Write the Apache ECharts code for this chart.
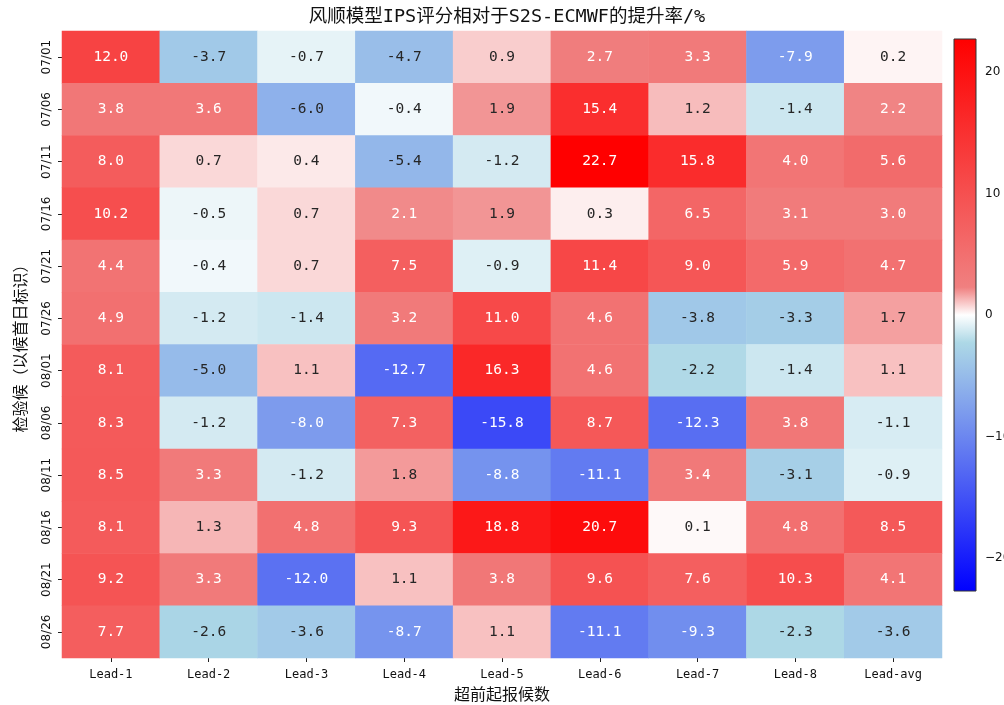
<!DOCTYPE html>
<html>
<head>
<meta charset="utf-8">
<script src="https://cdn.jsdelivr.net/npm/echarts@6/dist/echarts.min.js"></script>
<style>
  html, body { margin: 0; padding: 0; background: #fff; }
  #chart { width: 1004px; height: 705px; }
</style>
</head>
<body>
<div id="chart"></div>
<script>
// Lead times (columns) and verification pentads (rows, labelled by first day)
const leads = ['Lead-1', 'Lead-2', 'Lead-3', 'Lead-4', 'Lead-5', 'Lead-6', 'Lead-7', 'Lead-8', 'Lead-avg'];
const pentads = ['07/01', '07/06', '07/11', '07/16', '07/21', '07/26', '08/01', '08/06', '08/11', '08/16', '08/21', '08/26'];

// IPS improvement rate (%) per pentad, one array per row, columns follow `leads`
const r0701 = [12.0, -3.7, -0.7, -4.7, 0.9, 2.7, 3.3, -7.9, 0.2];
const r0706 = [3.8, 3.6, -6.0, -0.4, 1.9, 15.4, 1.2, -1.4, 2.2];
const r0711 = [8.0, 0.7, 0.4, -5.4, -1.2, 22.7, 15.8, 4.0, 5.6];
const r0716 = [10.2, -0.5, 0.7, 2.1, 1.9, 0.3, 6.5, 3.1, 3.0];
const r0721 = [4.4, -0.4, 0.7, 7.5, -0.9, 11.4, 9.0, 5.9, 4.7];
const r0726 = [4.9, -1.2, -1.4, 3.2, 11.0, 4.6, -3.8, -3.3, 1.7];
const r0801 = [8.1, -5.0, 1.1, -12.7, 16.3, 4.6, -2.2, -1.4, 1.1];
const r0806 = [8.3, -1.2, -8.0, 7.3, -15.8, 8.7, -12.3, 3.8, -1.1];
const r0811 = [8.5, 3.3, -1.2, 1.8, -8.8, -11.1, 3.4, -3.1, -0.9];
const r0816 = [8.1, 1.3, 4.8, 9.3, 18.8, 20.7, 0.1, 4.8, 8.5];
const r0821 = [9.2, 3.3, -12.0, 1.1, 3.8, 9.6, 7.6, 10.3, 4.1];
const r0826 = [7.7, -2.6, -3.6, -8.7, 1.1, -11.1, -9.3, -2.3, -3.6];
const rows = [r0701, r0706, r0711, r0716, r0721, r0726, r0801, r0806, r0811, r0816, r0821, r0826];

// Colour bar ticks
const barTicks = [-20, -10, 0, 10, 20];

// Symmetric colour range centred on zero
const vAbs = Math.max(...rows.flat().map(Math.abs));
const vMin = -vAbs, vMax = vAbs;

// Diverging colormap: blue -> lightblue -> white -> lightcoral -> red
const cmapNodes = [
  [0.00, [0, 0, 255]],
  [0.45, [173, 216, 230]],
  [0.50, [255, 255, 255]],
  [0.55, [240, 128, 128]],
  [1.00, [255, 0, 0]]
];
function cmap(t) {
  t = Math.min(1, Math.max(0, t));
  for (let i = 1; i < cmapNodes.length; i++) {
    const [t1, c1] = cmapNodes[i];
    const [t0, c0] = cmapNodes[i - 1];
    if (t <= t1) {
      const f = (t - t0) / (t1 - t0);
      return c0.map((v, k) => Math.round(v + (c1[k] - v) * f));
    }
  }
  return cmapNodes[cmapNodes.length - 1][1];
}
const toHex = c => '#' + c.map(v => v.toString(16).padStart(2, '0')).join('');
const rampColors = [];
for (let i = 0; i <= 20; i++) rampColors.push(toHex(cmap(i / 20)));

// Dark text on light cells, white text on saturated cells
function luminance(c) {
  const lin = c.map(v => {
    v /= 255;
    return v <= 0.03928 ? v / 12.92 : Math.pow((v + 0.055) / 1.055, 2.4);
  });
  return 0.2126 * lin[0] + 0.7152 * lin[1] + 0.0722 * lin[2];
}

const cells = [];
rows.forEach((row, r) => {
  row.forEach((v, c) => {
    const col = cmap((v - vMin) / (vMax - vMin));
    cells.push({
      value: [c, r, v],
      label: { color: luminance(col) > 0.408 ? '#262626' : '#ffffff' }
    });
  });
});

const monoCJK = '"DejaVu Sans Mono", "Noto Sans CJK SC", monospace';
const cjk = '"Noto Sans CJK SC", sans-serif';

const chart = echarts.init(document.getElementById('chart'), null, { renderer: 'canvas' });
chart.setOption({
  animation: false,
  backgroundColor: '#ffffff',
  title: {
    text: '风顺模型IPS评分相对于S2S-ECMWF的提升率/%',
    left: 502,
    textAlign: 'center',
    top: 3,
    textStyle: { fontFamily: monoCJK, fontSize: 18.5, fontWeight: 'normal', color: '#111' }
  },
  grid: [
    { left: 62, top: 31, width: 880, height: 627, outerBoundsMode: 'none' },
    { left: 954, top: 39, width: 22, height: 552, outerBoundsMode: 'none' }
  ],
  xAxis: [
    {
      type: 'category', gridIndex: 0, data: leads, position: 'bottom',
      axisLine: { show: false },
      axisTick: { show: true, alignWithLabel: true, length: 4, lineStyle: { color: '#222', width: 1 } },
      axisLabel: { margin: 11, fontFamily: monoCJK, fontSize: 12, color: '#111' },
      splitLine: { show: false },
      name: '超前起报候数', nameLocation: 'middle', nameGap: 24.5,
      nameTextStyle: { fontFamily: cjk, fontSize: 16, color: '#111' }
    },
    { type: 'value', gridIndex: 1, show: false, min: 0, max: 1 }
  ],
  yAxis: [
    {
      type: 'category', gridIndex: 0, data: pentads, inverse: true,
      axisLine: { show: false },
      axisTick: { show: true, alignWithLabel: true, length: 4, lineStyle: { color: '#222', width: 1 } },
      axisLabel: { rotate: 90, margin: 9, fontFamily: '"DejaVu Sans", sans-serif', fontSize: 12, color: '#111' },
      splitLine: { show: false },
      name: '检验候（以候首日标识）', nameLocation: 'middle', nameGap: 34, nameRotate: 90,
      nameTextStyle: { fontFamily: cjk, fontSize: 16, color: '#111' }
    },
    {
      type: 'value', gridIndex: 1, position: 'right', min: vMin, max: vMax,
      axisLine: { show: false },
      axisTick: { show: true, length: 4, customValues: barTicks, lineStyle: { color: '#222' } },
      axisLabel: {
        show: true, margin: 9, customValues: barTicks,
        fontFamily: '"DejaVu Sans", sans-serif', fontSize: 12, color: '#111',
        formatter: v => String(v).replace('-', '\u2212')
      },
      splitLine: { show: false }
    }
  ],
  visualMap: {
    type: 'continuous',
    show: false,
    seriesIndex: 0,
    dimension: 2,
    min: vMin, max: vMax,
    inRange: { color: rampColors }
  },
  series: [{
    type: 'heatmap',
    xAxisIndex: 0, yAxisIndex: 0,
    data: cells,
    itemStyle: { borderWidth: 0 },
    label: {
      show: true,
      fontFamily: '"DejaVu Sans Mono", monospace',
      fontSize: 14.5,
      formatter: p => p.value[2].toFixed(1)
    },
    emphasis: { disabled: true }
  }]
});

// Colour bar: a gradient strip spanning the colour-bar axis from vMin to vMax
const yTop = chart.convertToPixel({ yAxisIndex: 1 }, vMax);
const yBot = chart.convertToPixel({ yAxisIndex: 1 }, vMin);
const xL = chart.convertToPixel({ xAxisIndex: 1 }, 0);
const xR = chart.convertToPixel({ xAxisIndex: 1 }, 1);
const stops = cmapNodes.map(([t, c]) => ({ offset: 1 - t, color: toHex(c) })).reverse();
chart.setOption({
  graphic: [{
    type: 'rect',
    z: 5,
    shape: { x: xL, y: yTop, width: xR - xL, height: yBot - yTop },
    style: {
      fill: new echarts.graphic.LinearGradient(0, 0, 0, 1, stops),
      stroke: '#333',
      lineWidth: 1
    }
  }]
});
</script>
</body>
</html>
